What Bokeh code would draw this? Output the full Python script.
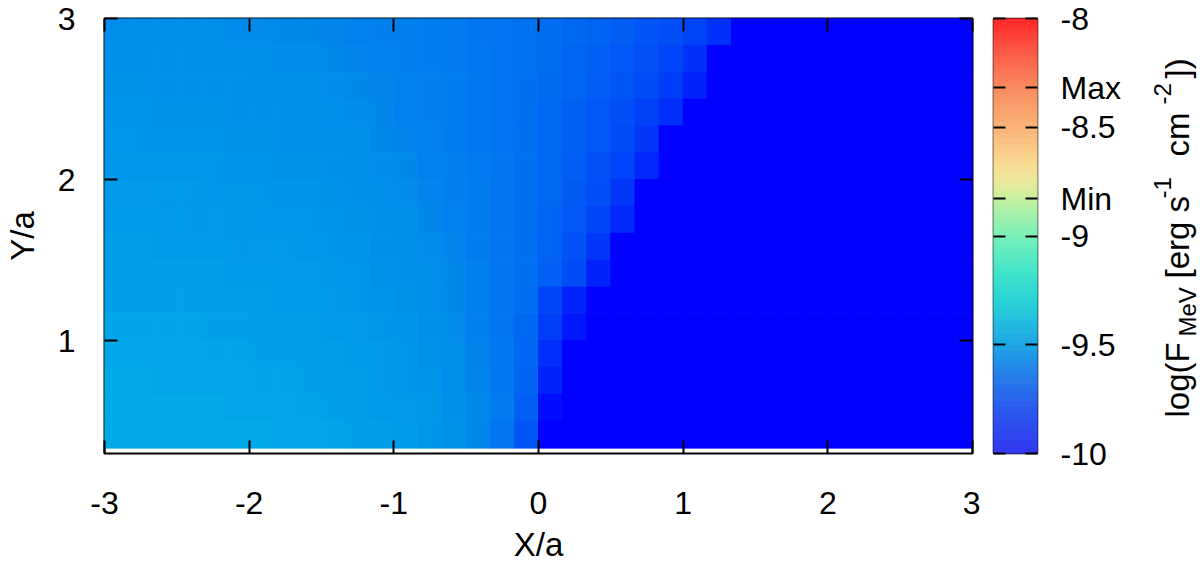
import math
import numpy as np
from bokeh.plotting import figure
from bokeh.layouts import row
from bokeh.models import (LinearColorMapper, FixedTicker, LinearAxis, Range1d,
                          ColumnDataSource, CustomJSTickFormatter)
from bokeh.core.properties import value
from bokeh.transform import transform
from bokeh.embed import file_html
from bokeh.resources import INLINE

# ---------------- data ----------------
# grid: 36 columns (X/a from -3 to 3) x 16 rows (Y/a from 1/3 to 3), cell size 1/6
x_centers = [round(-3 + (i + 0.5) / 6, 4) for i in range(36)]
y_centers_top_down = [round(3 - (j + 0.5) / 6, 4) for j in range(16)]

# log(F_MeV) per cell, rows listed from top (Y/a=2.92) to bottom (Y/a=0.42)
row_y2_92 = [-9.603, -9.603, -9.606, -9.606, -9.609, -9.613, -9.616, -9.619, -9.622, -9.628, -9.634, -9.641,
             -9.647, -9.653, -9.663, -9.672, -9.681, -9.694, -9.706, -9.722, -9.738, -9.755, -9.774, -9.795,
             -9.826, -9.874, -10.0, -10.0, -10.0, -10.0, -10.0, -10.0, -10.0, -10.0, -10.0, -10.0]
row_y2_75 = [-9.597, -9.597, -9.600, -9.600, -9.603, -9.606, -9.609, -9.613, -9.616, -9.622, -9.628, -9.634,
             -9.641, -9.650, -9.659, -9.669, -9.681, -9.694, -9.709, -9.728, -9.747, -9.766, -9.789, -9.816,
             -9.868, -10.0, -10.0, -10.0, -10.0, -10.0, -10.0, -10.0, -10.0, -10.0, -10.0, -10.0]
row_y2_58 = [-9.591, -9.591, -9.594, -9.594, -9.597, -9.600, -9.603, -9.606, -9.609, -9.616, -9.622, -9.628,
             -9.638, -9.647, -9.656, -9.669, -9.681, -9.697, -9.716, -9.734, -9.755, -9.776, -9.803, -9.842,
             -9.908, -10.0, -10.0, -10.0, -10.0, -10.0, -10.0, -10.0, -10.0, -10.0, -10.0, -10.0]
row_y2_42 = [-9.584, -9.584, -9.588, -9.588, -9.591, -9.594, -9.597, -9.600, -9.603, -9.609, -9.616, -9.625,
             -9.634, -9.644, -9.656, -9.669, -9.684, -9.700, -9.722, -9.744, -9.766, -9.792, -9.829, -9.882,
             -10.0, -10.0, -10.0, -10.0, -10.0, -10.0, -10.0, -10.0, -10.0, -10.0, -10.0, -10.0]
row_y2_25 = [-9.578, -9.578, -9.581, -9.581, -9.584, -9.588, -9.591, -9.594, -9.597, -9.603, -9.609, -9.619,
             -9.628, -9.638, -9.650, -9.666, -9.681, -9.700, -9.722, -9.747, -9.771, -9.803, -9.855, -10.0,
             -10.0, -10.0, -10.0, -10.0, -10.0, -10.0, -10.0, -10.0, -10.0, -10.0, -10.0, -10.0]
row_y2_08 = [-9.572, -9.572, -9.575, -9.575, -9.578, -9.581, -9.584, -9.588, -9.591, -9.597, -9.603, -9.613,
             -9.622, -9.634, -9.647, -9.663, -9.678, -9.700, -9.725, -9.753, -9.782, -9.821, -9.895, -10.0,
             -10.0, -10.0, -10.0, -10.0, -10.0, -10.0, -10.0, -10.0, -10.0, -10.0, -10.0, -10.0]
row_y1_92 = [-9.566, -9.566, -9.569, -9.569, -9.572, -9.575, -9.578, -9.581, -9.584, -9.591, -9.597, -9.606,
             -9.616, -9.628, -9.641, -9.656, -9.675, -9.697, -9.725, -9.758, -9.795, -9.855, -10.0, -10.0,
             -10.0, -10.0, -10.0, -10.0, -10.0, -10.0, -10.0, -10.0, -10.0, -10.0, -10.0, -10.0]
row_y1_75 = [-9.559, -9.559, -9.563, -9.563, -9.566, -9.569, -9.572, -9.575, -9.578, -9.584, -9.591, -9.600,
             -9.609, -9.622, -9.638, -9.653, -9.672, -9.697, -9.728, -9.768, -9.816, -9.895, -10.0, -10.0,
             -10.0, -10.0, -10.0, -10.0, -10.0, -10.0, -10.0, -10.0, -10.0, -10.0, -10.0, -10.0]
row_y1_58 = [-9.553, -9.553, -9.556, -9.556, -9.559, -9.563, -9.566, -9.569, -9.572, -9.578, -9.584, -9.594,
             -9.603, -9.616, -9.631, -9.650, -9.672, -9.700, -9.738, -9.784, -9.855, -10.0, -10.0, -10.0,
             -10.0, -10.0, -10.0, -10.0, -10.0, -10.0, -10.0, -10.0, -10.0, -10.0, -10.0, -10.0]
row_y1_42 = [-9.547, -9.547, -9.550, -9.550, -9.553, -9.556, -9.559, -9.563, -9.566, -9.572, -9.578, -9.588,
             -9.597, -9.609, -9.625, -9.647, -9.672, -9.703, -9.747, -9.803, -9.908, -10.0, -10.0, -10.0,
             -10.0, -10.0, -10.0, -10.0, -10.0, -10.0, -10.0, -10.0, -10.0, -10.0, -10.0, -10.0]
row_y1_25 = [-9.541, -9.541, -9.544, -9.544, -9.547, -9.550, -9.553, -9.556, -9.559, -9.566, -9.572, -9.581,
             -9.591, -9.603, -9.622, -9.644, -9.672, -9.709, -9.816, -9.908, -10.0, -10.0, -10.0, -10.0,
             -10.0, -10.0, -10.0, -10.0, -10.0, -10.0, -10.0, -10.0, -10.0, -10.0, -10.0, -10.0]
row_y1_08 = [-9.534, -9.534, -9.538, -9.538, -9.541, -9.544, -9.547, -9.550, -9.553, -9.559, -9.566, -9.575,
             -9.584, -9.597, -9.616, -9.641, -9.672, -9.719, -9.842, -9.942, -10.0, -10.0, -10.0, -10.0,
             -10.0, -10.0, -10.0, -10.0, -10.0, -10.0, -10.0, -10.0, -10.0, -10.0, -10.0, -10.0]
row_y0_92 = [-9.528, -9.528, -9.531, -9.531, -9.534, -9.538, -9.541, -9.544, -9.547, -9.553, -9.559, -9.569,
             -9.578, -9.591, -9.609, -9.634, -9.669, -9.722, -9.882, -10.0, -10.0, -10.0, -10.0, -10.0,
             -10.0, -10.0, -10.0, -10.0, -10.0, -10.0, -10.0, -10.0, -10.0, -10.0, -10.0, -10.0]
row_y0_75 = [-9.522, -9.522, -9.525, -9.525, -9.528, -9.531, -9.534, -9.538, -9.541, -9.547, -9.553, -9.563,
             -9.572, -9.584, -9.603, -9.628, -9.666, -9.734, -9.908, -10.0, -10.0, -10.0, -10.0, -10.0,
             -10.0, -10.0, -10.0, -10.0, -10.0, -10.0, -10.0, -10.0, -10.0, -10.0, -10.0, -10.0]
row_y0_58 = [-9.516, -9.516, -9.519, -9.519, -9.522, -9.525, -9.528, -9.531, -9.534, -9.541, -9.547, -9.556,
             -9.566, -9.578, -9.597, -9.622, -9.663, -9.750, -9.961, -10.0, -10.0, -10.0, -10.0, -10.0,
             -10.0, -10.0, -10.0, -10.0, -10.0, -10.0, -10.0, -10.0, -10.0, -10.0, -10.0, -10.0]
row_y0_42 = [-9.509, -9.509, -9.513, -9.513, -9.516, -9.519, -9.522, -9.525, -9.528, -9.534, -9.541, -9.550,
             -9.559, -9.572, -9.591, -9.622, -9.678, -9.776, -10.0, -10.0, -10.0, -10.0, -10.0, -10.0,
             -10.0, -10.0, -10.0, -10.0, -10.0, -10.0, -10.0, -10.0, -10.0, -10.0, -10.0, -10.0]

flux_rows = [row_y2_92, row_y2_75, row_y2_58, row_y2_42, row_y2_25, row_y2_08, row_y1_92, row_y1_75,
             row_y1_58, row_y1_42, row_y1_25, row_y1_08, row_y0_92, row_y0_75, row_y0_58, row_y0_42]

x_ticks = [-3, -2, -1, 0, 1, 2, 3]
x_tick_labels = ["-3", "-2", "-1", "0", "1", "2", "3"]
y_ticks = [1, 2, 3]
cb_ticks = [-10, -9.5, -9, -8.828, -8.5, -8.319, -8]
cb_labels = ["-10", "-9.5", "-9", "Min", "-8.5", "Max", "-8"]

# colour-bar title pieces: log(F_MeV [erg s^-1 cm^-2])
title_main = ["log(F", "[erg s", "cm", "])"]
title_small = ["MeV", "-1", "-2"]

# ---------------- colours ----------------
upper_anchors = [(-9.3, (40, 210, 215)), (-9.15, (70, 230, 200)), (-9.0, (120, 240, 185)),
                 (-8.83, (195, 240, 160)), (-8.75, (235, 235, 155)), (-8.65, (250, 215, 145)),
                 (-8.5, (250, 180, 120)), (-8.32, (250, 140, 95)), (-8.15, (252, 90, 70)),
                 (-8.0, (255, 40, 40))]
heat_anchors = [(-10.0, (0, 0, 255)), (-9.75, (0, 95, 245)), (-9.5, (0, 175, 230))] + upper_anchors
bar_anchors = [(-10.0, (50, 55, 240)), (-9.85, (45, 80, 240)), (-9.7, (40, 110, 235)),
               (-9.5, (30, 165, 230))] + upper_anchors
N_LEVELS = 256


def make_palette(anchors, n=N_LEVELS):
    vs = [a[0] for a in anchors]
    cols = []
    for i in range(n):
        v = -10 + 2 * (i + 0.5) / n
        r = np.interp(v, vs, [a[1][0] for a in anchors])
        g = np.interp(v, vs, [a[1][1] for a in anchors])
        b = np.interp(v, vs, [a[1][2] for a in anchors])
        cols.append("#%02x%02x%02x" % (int(round(r)), int(round(g)), int(round(b))))
    return cols


heat_mapper = LinearColorMapper(palette=make_palette(heat_anchors), low=-10, high=-8)
bar_palette = make_palette(bar_anchors)

xs, ys, vals = [], [], []
for r, yc in enumerate(y_centers_top_down):
    for c, xc in enumerate(x_centers):
        xs.append(xc)
        ys.append(yc)
        vals.append(flux_rows[r][c])
src = ColumnDataSource(data=dict(x=xs, y=ys, v=vals))

FONT = "Liberation Sans"
TICK_SIZE = "32px"
H = 567
BORDER_TOP, BORDER_BOTTOM = 18, 114


def style_axis(ax, ticks, standoff, show_labels=True, tick_len=13):
    ax.ticker = FixedTicker(ticks=ticks)
    ax.axis_line_color = None
    ax.major_tick_in = tick_len
    ax.major_tick_out = 0
    ax.major_tick_line_width = 2
    ax.major_tick_line_color = "black"
    ax.minor_tick_line_color = None
    ax.major_label_text_font = FONT
    ax.major_label_text_color = "black"
    ax.major_label_standoff = standoff
    if show_labels:
        ax.major_label_text_font_size = TICK_SIZE
    else:
        ax.formatter = CustomJSTickFormatter(code="return ''")
        ax.major_label_text_font_size = "1px"


# ---------------- main heat map ----------------
pa = figure(width=980, height=H, x_range=Range1d(-3, 3), y_range=Range1d(0.3, 3),
            output_backend="svg", toolbar_location=None,
            min_border_left=102, min_border_top=BORDER_TOP, min_border_bottom=BORDER_BOTTOM,
            min_border_right=8)
pa.background_fill_color = "white"
pa.border_fill_color = "white"
pa.grid.visible = False
pa.outline_line_color = "black"
pa.outline_line_width = 2
pa.outline_line_alpha = 1.0

pa.rect("x", "y", width=1 / 6, height=1 / 6, source=src,
        fill_color=transform("v", heat_mapper), line_color=transform("v", heat_mapper), line_width=1)

style_axis(pa.xaxis[0], x_ticks, 38)
pa.xaxis[0].major_label_overrides = {t: s for t, s in zip(x_ticks, x_tick_labels)}
pa.xaxis[0].axis_label = "X/a"
pa.xaxis[0].axis_label_standoff = 9
style_axis(pa.yaxis[0], y_ticks, 29)
pa.yaxis[0].axis_label = "Y/a"
pa.yaxis[0].axis_label_standoff = 14
for ax in (pa.xaxis[0], pa.yaxis[0]):
    ax.axis_label_text_font = FONT
    ax.axis_label_text_font_size = "33px"
    ax.axis_label_text_font_style = "normal"
    ax.axis_label_text_color = "black"

top_axis = LinearAxis()
style_axis(top_axis, x_ticks, 0, show_labels=False)
pa.add_layout(top_axis, "above")
right_axis = LinearAxis()
style_axis(right_axis, y_ticks, 0, show_labels=False)
pa.add_layout(right_axis, "right")

# ---------------- colour bar (its frame is the bar) ----------------
pb = figure(width=160, height=H, x_range=Range1d(0, 1), y_range=Range1d(-10, -8),
            output_backend="svg", toolbar_location=None,
            min_border_left=13, min_border_right=103, min_border_top=BORDER_TOP,
            min_border_bottom=BORDER_BOTTOM, x_axis_location=None, y_axis_location="right")
pb.grid.visible = False
pb.background_fill_color = "white"
pb.border_fill_color = "white"
pb.outline_line_color = "black"
pb.outline_line_width = 1.5

lvl_bottom = [-10 + 2 * i / N_LEVELS for i in range(N_LEVELS)]
lvl_top = [-10 + 2 * (i + 1) / N_LEVELS for i in range(N_LEVELS)]
pb.quad(left=0, right=1, bottom=lvl_bottom, top=lvl_top,
        fill_color=bar_palette, line_color=bar_palette, line_width=1)

style_axis(pb.yaxis[0], cb_ticks, 23, tick_len=12)
pb.yaxis[0].major_label_overrides = {t: s for t, s in zip(cb_ticks, cb_labels)}
cb_left_axis = LinearAxis()
style_axis(cb_left_axis, cb_ticks, 0, show_labels=False, tick_len=12)
pb.add_layout(cb_left_axis, "left")

# ---------------- colour-bar title (rotated, reads bottom to top) ----------------
pc = figure(width=60, height=H, x_range=Range1d(1140, 1200), y_range=Range1d(453, 18),
            output_backend="svg", toolbar_location=None,
            min_border_left=0, min_border_right=0, min_border_top=BORDER_TOP,
            min_border_bottom=BORDER_BOTTOM, x_axis_location=None, y_axis_location=None)
pc.grid.visible = False
pc.outline_line_color = None
pc.background_fill_color = "white"
pc.border_fill_color = "white"
pc.text(x=[1177, 1177, 1177, 1177], y=[417, 278, 156, 78], text=title_main,
        angle=math.pi / 2, text_font=value(FONT), text_font_size=value("33px"),
        text_align="left", text_baseline="middle", text_color="black")
pc.text(x=[1187, 1162, 1162], y=[336, 198, 104], text=title_small,
        angle=math.pi / 2, text_font=value(FONT), text_font_size=value("24px"),
        text_align="left", text_baseline="middle", text_color="black")

layout = row(pa, pb, pc, spacing=0)
open("out.html", "w").write(file_html(layout, INLINE))
